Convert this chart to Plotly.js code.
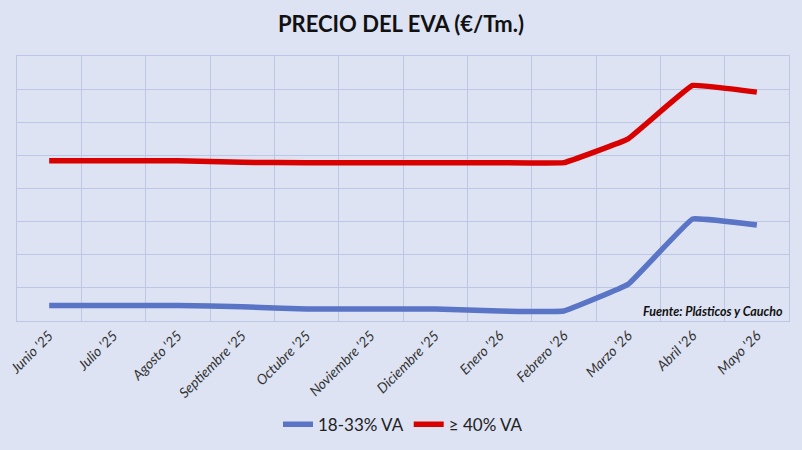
<!DOCTYPE html>
<html>
<head>
<meta charset="utf-8">
<script src="https://cdn.plot.ly/plotly-3.0.1.min.js"></script>
<style>
  html, body { margin: 0; padding: 0; background: #dde3f3; }
  #chart { width: 802px; height: 450px; }
</style>
</head>
<body>
<div id="chart"></div>
<script>
  // months on the x axis
  const months = [
    "Junio '25", "Julio '25", "Agosto '25", "Septiembre '25", "Octubre '25", "Noviembre '25",
    "Diciembre '25", "Enero '26", "Febrero '26", "Marzo '26", "Abril '26", "Mayo '26",
  ];
  // values, in grid steps (the source shows no y labels)
  const eva1833 = [0.47, 0.47, 0.47, 0.43, 0.36, 0.36, 0.36, 0.30, 0.30, 1.11, 3.08, 2.90];
  const eva40 = [4.84, 4.84, 4.84, 4.79, 4.78, 4.78, 4.78, 4.78, 4.78, 5.50, 7.11, 6.91];

  const FONT = "Lato, 'Open Sans', sans-serif";
  const BG = "#dde3f3";
  const GRID = "#bcc7e6";

  const traces = [
    {
      x: months,
      y: eva1833,
      name: "18-33% VA",
      type: "scatter",
      mode: "lines",
      line: { color: "#5a74c6", width: 5.5, shape: "spline", smoothing: 0.2 },
    },
    {
      x: months,
      y: eva40,
      name: "\u2265 40% VA",
      type: "scatter",
      mode: "lines",
      line: { color: "#d90000", width: 5.5, shape: "spline", smoothing: 0.2 },
    },
  ];

  const layout = {
    width: 802,
    height: 450,
    paper_bgcolor: BG,
    plot_bgcolor: BG,
    margin: { t: 56, r: 13, b: 129, l: 17, autoexpand: false },
    font: { family: FONT, color: "#222" },
    title: {
      text: "<b>PRECIO DEL EVA (€/Tm.)</b>",
      font: { size: 22, color: "#111" },
      x: 0.5,
      xanchor: "center",
      yref: "container",
      y: 0.945,
      yanchor: "middle",
    },
    xaxis: {
      type: "category",
      range: [-0.5, 11.5],
      tickson: "boundaries",
      ticks: "",
      showgrid: true,
      gridcolor: GRID,
      gridwidth: 1,
      showline: true,
      linecolor: GRID,
      mirror: true,
      tickangle: -45,
      tickfont: { size: 14, style: "italic", color: "#333" },
      automargin: false,
      fixedrange: true,
    },
    yaxis: {
      range: [0, 8],
      dtick: 1,
      showticklabels: false,
      ticks: "",
      showgrid: true,
      gridcolor: GRID,
      gridwidth: 1,
      zeroline: false,
      showline: true,
      linecolor: GRID,
      mirror: true,
      automargin: false,
      fixedrange: true,
    },
    showlegend: true,
    legend: {
      orientation: "h",
      x: 0.5,
      xref: "paper",
      xanchor: "center",
      yref: "container",
      y: 0.056,
      yanchor: "middle",
      font: { size: 17, color: "#222" },
      bgcolor: "rgba(0,0,0,0)",
      itemwidth: 30,
    },
    annotations: [
      {
        text: "<b><i>Fuente: Plásticos y Caucho</i></b>",
        xref: "paper",
        yref: "paper",
        x: 0.995,
        y: 0.035,
        xanchor: "right",
        yanchor: "middle",
        showarrow: false,
        font: { size: 12.5, color: "#111" },
      },
    ],
  };

  Plotly.newPlot("chart", traces, layout, { displayModeBar: false, staticPlot: true });
</script>
</body>
</html>
